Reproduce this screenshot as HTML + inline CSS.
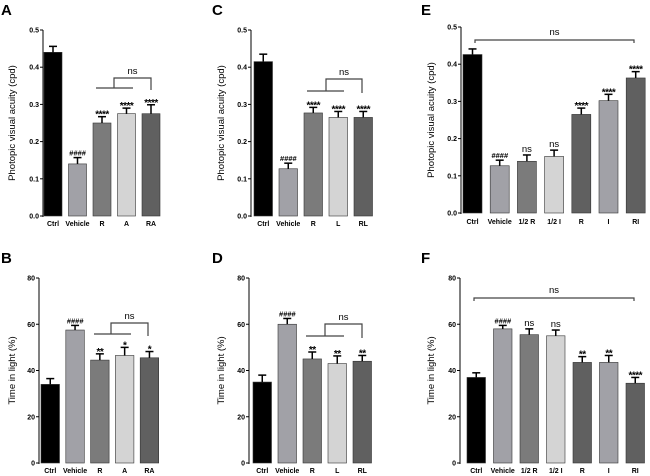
<!DOCTYPE html>
<html><head><meta charset="utf-8"><style>
html,body{margin:0;padding:0;background:#fff;width:650px;height:476px;overflow:hidden}
svg{display:block;font-family:"Liberation Sans",Arial,sans-serif}
</style></head><body>
<svg id="fig" width="650" height="476" viewBox="0 0 650 476" xmlns="http://www.w3.org/2000/svg"></svg>
<script>
// Panel data
const catsA=["Ctrl","Vehicle","R","A","RA"];
const valsA=[0.44,0.14,0.25,0.275,0.275];
const errA=[0.016,0.017,0.017,0.015,0.024];
const sigA=["","####","****","****","****"];
const catsC=["Ctrl","Vehicle","R","L","RL"];
const valsC=[0.415,0.127,0.277,0.265,0.265];
const errC=[0.02,0.015,0.015,0.016,0.016];
const sigC=["","####","****","****","****"];
const catsE=["Ctrl","Vehicle","1/2 R","1/2 I","R","I","RI"];
const valsE=[0.426,0.127,0.139,0.152,0.265,0.302,0.363];
const errE=[0.015,0.015,0.017,0.017,0.017,0.017,0.017];
const sigE=["","####","ns","ns","****","****","****"];
const catsB=["Ctrl","Vehicle","R","A","RA"];
const valsB=[34,57.5,44.5,46.5,45.5];
const errB=[2.5,2,2.7,3.5,2.7];
const sigB=["","####","**","*","*"];
const catsD=["Ctrl","Vehicle","R","L","RL"];
const valsD=[35,60,45,43,44];
const errD=[3,2.5,3,3.3,2.5];
const sigD=["","####","**","**","**"];
const catsF=["Ctrl","Vehicle","1/2 R","1/2 I","R","I","RI"];
const valsF=[37,58,55.5,55,43.5,43.5,34.5];
const errF=[2,1.5,2.5,2.5,2.5,3,2.5];
const sigF=["","####","ns","ns","**","**","****"];
const ticksTop=[0,0.1,0.2,0.3,0.4,0.5];
const tickLabelsTop=["0.0","0.1","0.2","0.3","0.4","0.5"];
const ticksBot=[0,20,40,60,80];
const tickLabelsBot=["0","20","40","60","80"];

const NS="http://www.w3.org/2000/svg";
const svg=document.getElementById('fig');
function mk(tag,attrs,parent){const e=document.createElementNS(NS,tag);for(const k in attrs)e.setAttribute(k,attrs[k]);(parent||svg).appendChild(e);return e;}
const c5=["#000","#a1a1a7","#7b7b7b","#d4d4d4","#606060"];
const c7=["#000","#a1a1a7","#7b7b7b","#d4d4d4","#606060","#a1a1a7","#606060"];

function panel(o){
  const g=mk('g',{});
  
  
  const y=v=>o.y0-(v/o.max)*(o.y0-o.y1);
  const L=mk('text',{x:o.lx,y:o.ly,'font-size':15,'font-weight':'bold'},g);L.textContent=o.letter;
  
  
  const ax=mk('line',{x1:o.ax,y1:o.y1,x2:o.ax,y2:o.y0+1,stroke:'#000','stroke-width':1},g);
  
  
  o.ticks.forEach((t,i)=>{
    mk('line',{x1:o.ax-3,y1:y(t),x2:o.ax,y2:y(t),stroke:'#000'},g);
    const tl=mk('text',{x:o.ax-4,y:y(t)+2.5,'font-size':7,'font-weight':'bold','text-anchor':'end'},g);
    tl.textContent=o.tickLabels[i];
    
    
  });
  const yt=mk('text',{x:0,y:0,'font-size':9.5,'text-anchor':'middle',transform:`translate(${o.tx},${(o.y0+o.y1)/2}) rotate(-90)`},g);
  yt.textContent=o.title;
  
  
  o.cats.forEach((c,i)=>{
    const x=o.bx+i*o.step, v=o.vals[i], e=o.errs[i];
    const r=mk('rect',{x:x,y:y(v),width:o.bw,height:o.y0-y(v),fill:o.colors[i],stroke:'#333','stroke-width':0.6},g);
    
    
    const cx=x+o.bw/2;
    mk('line',{x1:cx,y1:y(v),x2:cx,y2:y(v+e),stroke:'#000','stroke-width':1.5},g);
    mk('line',{x1:cx-4,y1:y(v+e),x2:cx+4,y2:y(v+e),stroke:'#000','stroke-width':1.5},g);
    if(o.sig[i]){
      const s0=o.sig[i], isNs=s0==='ns', isStar=s0[0]==='*';
      const s=mk('text',{x:cx,y:y(v+e)-(isNs?3:(isStar?-1:2)),'font-size':isNs?9.5:(isStar?10:7.5),'font-weight':isNs?'normal':'bold','font-style':s0[0]==='#'?'italic':'normal','text-anchor':'middle','letter-spacing':isStar?'-0.5':'0'},g);
      s.textContent=s0;
      
      
    }
    const xl=mk('text',{x:cx,y:o.xly,'font-size':7,'font-weight':'bold','text-anchor':'middle'},g);
    xl.textContent=c;
    
    
  });
  if(o.br){
    const b=o.br, bg=mk('g',{},g);
    
    
    if(b.type==='long'){
      mk('path',{d:`M${b.x1},${b.y+3}V${b.y}H${b.x2}V${b.y+3}`,fill:'none',stroke:'#444','stroke-width':1.2},bg);
      const t=mk('text',{x:(b.x1+b.x2)/2,y:b.y-5,'font-size':9.5,'text-anchor':'middle'},bg);t.textContent='ns';
    }else{
      mk('line',{x1:b.x1,y1:b.y,x2:b.x2,y2:b.y,stroke:'#444','stroke-width':1.2},bg);
      mk('path',{d:`M${b.xm},${b.y}V${b.yt}H${b.x3}V${b.y+2}`,fill:'none',stroke:'#444','stroke-width':1.2},bg);
      const t=mk('text',{x:(b.xm+b.x3)/2,y:b.yt-4,'font-size':9.5,'text-anchor':'middle'},bg);t.textContent='ns';
    }
  }
}
const tTop="Photopic visual acuity (cpd)", tBot="Time in light (%)";
panel({letter:'A',lx:1,ly:15,ax:43,y0:216,y1:30,max:0.5,ticks:ticksTop,tickLabels:tickLabelsTop,tx:15,title:tTop,cats:catsA,vals:valsA,errs:errA,sig:sigA,colors:c5,bx:44,step:24.5,bw:18,xly:226,br:{x1:96,x2:133,y:88,xm:114,yt:78,x3:151}});
panel({letter:'C',lx:212,ly:15,ax:251,y0:216,y1:30,max:0.5,ticks:ticksTop,tickLabels:tickLabelsTop,tx:224,title:tTop,cats:catsC,vals:valsC,errs:errC,sig:sigC,colors:c5,bx:254,step:25,bw:18.5,xly:226,br:{x1:307,x2:344,y:91,xm:326,yt:79,x3:362}});
panel({letter:'E',lx:421,ly:15,ax:461,y0:213,y1:27,max:0.5,ticks:ticksTop,tickLabels:tickLabelsTop,tx:434,title:tTop,cats:catsE,vals:valsE,errs:errE,sig:sigE,colors:c7,bx:463,step:27.2,bw:19,xly:224,br:{type:'long',x1:475,x2:634,y:40}});
panel({letter:'B',lx:1,ly:263,ax:39,y0:463,y1:278,max:80,ticks:ticksBot,tickLabels:tickLabelsBot,tx:15,title:tBot,cats:catsB,vals:valsB,errs:errB,sig:sigB,colors:c5,bx:41,step:24.8,bw:18.5,xly:473,br:{x1:94,x2:131,y:334,xm:111,yt:323,x3:148}});
panel({letter:'D',lx:212,ly:263,ax:249,y0:463,y1:278,max:80,ticks:ticksBot,tickLabels:tickLabelsBot,tx:224,title:tBot,cats:catsD,vals:valsD,errs:errD,sig:sigD,colors:c5,bx:253,step:25,bw:18.5,xly:473,br:{x1:306,x2:344,y:336,xm:325,yt:324,x3:362}});
panel({letter:'F',lx:421,ly:263,ax:460,y0:463,y1:278,max:80,ticks:ticksBot,tickLabels:tickLabelsBot,tx:434,title:tBot,cats:catsF,vals:valsF,errs:errF,sig:sigF,colors:c7,bx:467,step:26.5,bw:18.5,xly:473,br:{type:'long',x1:474,x2:634,y:298}});
</script>
</body></html>
